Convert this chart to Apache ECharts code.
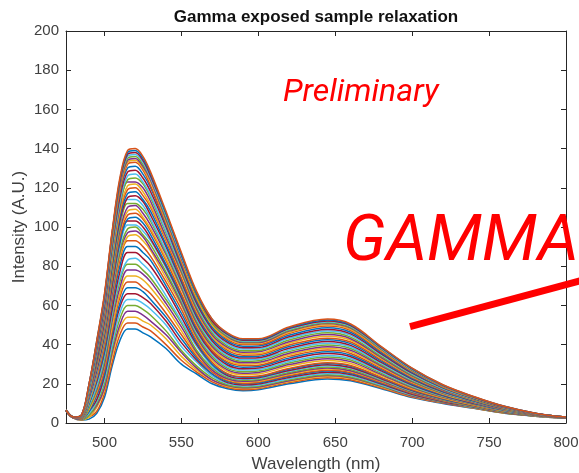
<!DOCTYPE html>
<html><head><meta charset="utf-8">
<script src="https://cdn.jsdelivr.net/npm/echarts@6/dist/echarts.min.js"></script>
<style>html,body{margin:0;padding:0;background:#fff}#c{width:579px;height:473px}</style>
</head><body><div id="c"></div>
<script>
const titleText = 'Gamma exposed sample relaxation';
const xName = 'Wavelength (nm)';
const yName = 'Intensity (A.U.)';
const note1 = 'Preliminary';
const note2 = 'GAMMA';

const wavelengths = [475,480,485,490,495,500,505,510,515,520,525,530,540,550,560,570,580,590,600,620,645,660,680,700,720,740,760,780,800];

const spectra = [
[6.5,2.5,1.5,2,5,13,29,42,48,48,46,44,38,30,25,20,17.5,16.5,17,20,22.5,21.5,17.5,13,10,7.5,5,3.5,2.5],
[6.5,2.5,1.6,3,6,15,31,45,51,51,49,47,40,32,26,21,18.1,17.0,17.5,20.6,23.1,22.1,17.9,13.3,10.2,7.6,5.1,3.5,2.5],
[6.5,2.5,1.7,3,8,17,34,48,54,54,52,50,43,34,27,22,18.6,17.6,18.0,21.2,23.7,22.7,18.4,13.6,10.4,7.7,5.1,3.6,2.5],
[6.5,2.6,1.8,4,9,18,36,50,57,57,55,52,45,36,28,22,19.1,18.0,18.4,21.6,24.2,23.1,18.7,13.8,10.5,7.8,5.2,3.6,2.5],
[6.5,2.6,1.8,4,10,20,38,53,60,60,58,55,47,37,29,23,19.5,18.4,18.8,22.0,24.6,23.5,19.0,14.1,10.7,7.9,5.2,3.6,2.5],
[6.5,2.6,1.9,5,11,22,40,56,63,63,61,58,50,39,31,24,20.1,18.9,19.3,22.6,25.3,24.1,19.4,14.4,10.9,8.0,5.3,3.6,2.5],
[6.5,2.6,2.0,6,12,24,43,59,66,66,64,61,52,41,32,25,20.6,19.4,19.9,23.2,25.9,24.7,19.9,14.7,11.0,8.2,5.4,3.7,2.6],
[6.5,2.6,2.1,6,14,25,45,61,69,69,67,63,54,43,33,25,21.2,20.0,20.4,23.8,26.5,25.3,20.3,15.0,11.2,8.3,5.5,3.7,2.6],
[6.5,2.6,2.2,7,15,27,47,64,72,72,69,66,56,45,34,26,21.6,20.3,20.8,24.2,26.9,25.7,20.6,15.2,11.4,8.4,5.5,3.7,2.6],
[6.5,2.6,2.2,7,16,29,49,66,75,75,73,69,59,47,35,27,22.2,20.9,21.3,24.8,27.5,26.3,21.1,15.5,11.6,8.5,5.6,3.7,2.6],
[6.5,2.7,2.3,8,17,30,52,69,78,78,76,72,61,49,36,27,22.6,21.3,21.7,25.2,28.0,26.7,21.4,15.7,11.7,8.6,5.6,3.8,2.6],
[6.5,2.7,2.4,8,18,32,54,72,81,81,78,74,63,51,37,28,23.2,21.8,22.2,25.8,28.6,27.3,21.8,16.0,11.9,8.7,5.7,3.8,2.6],
[6.5,2.7,2.5,9,19,34,56,74,83,84,81,77,65,52,39,29,23.8,22.3,22.7,26.4,29.2,27.9,22.2,16.3,12.1,8.8,5.8,3.8,2.6],
[6.5,2.7,2.6,10,21,36,58,77,87,87,84,80,68,54,40,30,24.2,22.7,23.1,26.8,29.7,28.3,22.6,16.5,12.2,8.9,5.8,3.9,2.6],
[6.5,2.7,2.7,10,22,37,61,80,90,90,87,83,70,56,41,30,24.8,23.3,23.6,27.4,30.3,28.9,23.0,16.8,12.4,9.0,5.9,3.9,2.6],
[6.5,2.7,2.7,11,23,39,63,83,93,93,90,85,72,58,42,31,25.2,23.7,24.0,27.8,30.7,29.3,23.3,17.1,12.6,9.1,6.0,3.9,2.6],
[6.5,2.8,2.8,11,24,41,65,85,95,96,93,88,74,60,43,32,26.3,24.7,25.0,28.9,31.9,30.4,24.1,17.6,12.9,9.3,6.1,4.0,2.7],
[6.5,2.8,2.9,12,25,42,66,87,97,98,95,89,76,61,44,33,27.1,25.4,25.8,29.8,32.8,31.3,24.7,18.1,13.2,9.5,6.2,4.0,2.7],
[6.5,2.8,2.9,12,26,43,68,88,99,100,96,91,77,62,45,34,27.9,26.2,26.5,30.6,33.7,32.1,25.4,18.5,13.5,9.7,6.3,4.0,2.7],
[6.5,2.8,3.0,12,26,44,69,90,101,101,98,93,79,63,46,35,28.7,27.0,27.3,31.4,34.5,32.9,26.0,18.9,13.8,9.9,6.4,4.1,2.7],
[6.5,2.8,3.0,13,27,45,70,92,103,103,100,94,80,64,47,36,29.6,27.7,28.0,32.3,35.4,33.8,26.6,19.4,14.0,10.0,6.5,4.1,2.7],
[6.5,2.8,3.1,13,28,46,72,93,104,105,102,96,81,65,48,37,30.4,28.5,28.8,33.1,36.3,34.6,27.2,19.8,14.3,10.2,6.6,4.2,2.7],
[6.5,2.8,3.1,14,29,47,73,95,106,107,104,98,83,66,49,37,31.2,29.3,29.5,34.0,37.2,35.5,27.8,20.2,14.6,10.4,6.7,4.2,2.7],
[6.5,2.8,3.2,14,29,48,75,97,108,109,105,99,84,68,50,38,32.0,30.0,30.3,34.8,38.1,36.3,28.5,20.7,14.8,10.6,6.8,4.3,2.8],
[6.5,2.8,3.2,14,30,49,76,98,110,111,107,101,86,69,51,39,32.9,30.8,31.0,35.6,38.9,37.1,29.1,21.1,15.1,10.7,6.9,4.3,2.8],
[6.5,2.9,3.3,15,31,50,77,100,112,112,109,103,87,70,52,40,33.7,31.5,31.8,36.5,39.8,38.0,29.7,21.5,15.4,10.9,7.0,4.3,2.8],
[6.5,2.9,3.3,15,32,51,79,102,114,114,111,104,88,71,53,41,34.5,32.3,32.5,37.3,40.7,38.8,30.3,22.0,15.7,11.1,7.1,4.4,2.8],
[6.5,2.9,3.4,15,32,52,80,103,115,116,113,106,90,72,54,42,35.3,33.1,33.3,38.1,41.6,39.6,30.9,22.4,15.9,11.3,7.2,4.4,2.8],
[6.5,2.9,3.4,16,33,53,81,105,117,118,114,108,91,73,55,43,36.1,33.8,34.0,39.0,42.5,40.5,31.6,22.8,16.2,11.4,7.3,4.5,2.8],
[6.5,2.9,3.5,16,34,54,83,107,119,120,116,110,93,74,56,44,37.0,34.6,34.8,39.8,43.3,41.3,32.2,23.3,16.5,11.6,7.4,4.5,2.8],
[6.5,2.9,3.5,16,35,55,84,108,121,122,118,111,94,76,57,44,37.8,35.4,35.5,40.7,44.2,42.2,32.8,23.7,16.8,11.8,7.5,4.6,2.9],
[6.5,2.9,3.6,17,35,56,86,110,123,123,120,113,95,77,58,45,38.6,36.1,36.3,41.5,45.1,43.0,33.4,24.1,17.0,12.0,7.6,4.6,2.9],
[6.5,2.9,3.6,17,36,58,87,112,124,125,122,115,97,78,59,46,39.4,36.9,37.0,42.3,46.0,43.8,34.0,24.5,17.3,12.1,7.7,4.7,2.9],
[6.5,2.9,3.7,17,37,59,88,113,126,127,123,116,98,79,60,47,40.3,37.7,37.8,43.2,46.9,44.7,34.7,25.0,17.6,12.3,7.8,4.7,2.9],
[6.5,2.9,3.7,18,38,60,90,115,128,129,125,118,100,80,61,48,41.1,38.4,38.5,44.0,47.7,45.5,35.3,25.4,17.9,12.5,7.9,4.7,2.9],
[6.5,3.0,3.8,18,38,61,91,117,130,131,127,120,101,81,62,49,41.9,39.2,39.3,44.8,48.6,46.3,35.9,25.8,18.1,12.6,8.0,4.8,2.9],
[6.5,3.0,3.8,19,39,62,92,118,132,133,129,121,102,82,63,50,42.7,40.0,40.0,45.7,49.5,47.2,36.5,26.3,18.4,12.8,8.1,4.8,2.9],
[6.5,3.0,3.8,19,40,63,94,120,133,134,130,123,103,83,64,50,43.3,40.5,40.6,46.3,50.1,47.8,37.0,26.6,18.6,12.9,8.2,4.9,3.0],
[6.5,3.0,3.9,19,40,63,95,121,134,135,131,124,104,84,65,51,44.0,41.1,41.1,46.9,50.8,48.4,37.5,26.9,18.8,13.1,8.2,4.9,3.0],
[6.5,3.0,3.9,19,41,64,95,122,135,136,132,125,105,85,65,51,44.3,41.5,41.5,47.3,51.2,48.8,37.8,27.1,19.0,13.2,8.3,4.9,3.0],
[6.5,3.0,3.9,19,41,64,96,123,136,137,133,125,106,85,66,52,44.8,41.9,41.9,47.8,51.7,49.3,38.1,27.4,19.1,13.2,8.4,4.9,3.0],
[6.5,3.0,4.0,20,41,65,97,123,137,138,134,126,107,86,66,52,45.2,42.2,42.2,48.2,52.1,49.7,38.4,27.6,19.2,13.3,8.4,5.0,3.0],
[6.5,3.0,4.0,20,42,65,97,124,138,139,135,127,107,86,66,53,45.6,42.6,42.6,48.6,52.6,50.1,38.7,27.8,19.4,13.4,8.5,5.0,3.0],
[6.5,3.0,4.0,20,42,66,98,125,139,140,136,128,108,87,67,53,46.0,43.0,43.0,49.0,53.0,50.5,39.0,28.0,19.5,13.5,8.5,5.0,3.0]
];

const lineColors = ['#0072BD','#D95319','#EDB120','#7E2F8E','#77AC30','#4DBEEE','#A2142F'];

const axisColor = '#262626';
const labelColor = '#404040';
const fontFam = 'Liberation Sans, Arial, sans-serif';

function boxAxis(pos, min, max, interval) {
  const a = {
    type: 'value', position: pos, min: min, max: max,
    axisLine: {show: true, onZero: false, lineStyle: {color: axisColor, width: 1}},
    axisTick: {show: true, inside: true, length: 5, lineStyle: {color: axisColor, width: 1}},
    axisLabel: {show: false},
    splitLine: {show: false}
  };
  if (interval) a.interval = interval;
  return a;
}

const xBottom = boxAxis('bottom', 475, 800);
xBottom.axisLabel = {show: true, showMinLabel: false, color: labelColor, fontSize: 15, fontFamily: fontFam, margin: 12};
xBottom.name = xName; xBottom.nameLocation = 'middle'; xBottom.nameGap = 33; xBottom.nameMoveOverlap = false;
xBottom.nameTextStyle = {color: labelColor, fontSize: 17, fontFamily: fontFam};
const xTop = boxAxis('top', 475, 800);

const yLeft = boxAxis('left', 0, 200, 20);
yLeft.axisLabel = {show: true, color: labelColor, fontSize: 15, fontFamily: fontFam, margin: 7};
yLeft.name = yName; yLeft.nameLocation = 'middle'; yLeft.nameGap = 38; yLeft.nameMoveOverlap = false;
yLeft.nameTextStyle = {color: labelColor, fontSize: 17, fontFamily: fontFam};
const yRight = boxAxis('right', 0, 200, 20);

const series = spectra.map((s, i) => ({
  type: 'line',
  xAxisIndex: 0, yAxisIndex: 0,
  data: wavelengths.map((w, j) => [w, s[j]]),
  symbol: 'none', showSymbol: false,
  smooth: 0.35,
  silent: true,
  lineStyle: {width: 1.5, color: lineColors[i % lineColors.length]}
}));

const chart = echarts.init(document.getElementById('c'), null, {renderer: 'canvas'});
chart.setOption({
  animation: false,
  backgroundColor: '#ffffff',
  title: {text: titleText, left: 311, top: 4, textAlign: 'center',
    textStyle: {color: '#111', fontSize: 17, fontWeight: 'bold', fontFamily: fontFam}},
  grid: {left: 66, right: 13, top: 31, bottom: 50, containLabel: false, outerBoundsMode: 'none'},
  xAxis: [xBottom, xTop],
  yAxis: [yLeft, yRight],
  series: series,
  graphic: [
    {type: 'text', z: 100, style: {x: 283, y: 93, text: note1, fill: '#ff0000', font: 'italic 32px Roboto', verticalAlign: 'middle'}},
    {type: 'text', z: 100, style: {x: 343, y: 244, text: note2, fill: '#ff0000', font: 'italic 65px Roboto', verticalAlign: 'middle'}},
    {type: 'line', z: 100, shape: {x1: 410, y1: 326.7, x2: 600, y2: 275.4}, style: {stroke: '#ff0000', lineWidth: 7}}
  ]
});
</script>
</body></html>
